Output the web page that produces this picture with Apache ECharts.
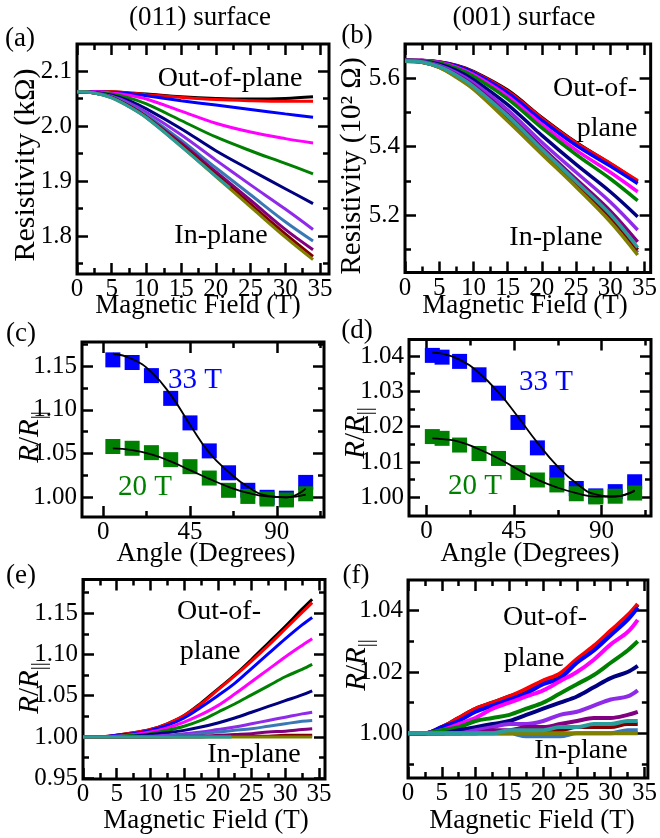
<!DOCTYPE html>
<html>
<head>
<meta charset="utf-8">
<script src="https://cdn.jsdelivr.net/npm/echarts@6/dist/echarts.min.js"></script>
<style>
html,body{margin:0;padding:0;background:#fff;}
#chart{width:660px;height:838px;}
</style>
</head>
<body>
<div id="chart"></div>
<script>
// ---------------- DATA ----------------
const seriesNames = ['black','red','blue','magenta','green','navy','violet','steel','purple','wine','olive','teal'];
const seriesColors = ['#000000','#ff0000','#0000ff','#ff00ff','#008000','#000080','#8f2be8','#3a78b5','#800080','#800000','#808000','#2a9c9c'];

// field grids (T)
const fieldA = [0, 2.5, 5, 7.5, 10, 15, 20, 25, 30, 34];
const fieldTeal = [0, 2.5, 5, 7.5, 10, 15, 20, 22];
const fieldE = [0, 2.5, 5, 7.5, 10, 12.5, 15, 17.5, 20, 22.5, 25, 27.5, 30, 32.5, 34];

// (a) (011) surface resistivity, kOhm
const aBlack   = [2.062, 2.062, 2.062, 2.060, 2.058, 2.053, 2.050, 2.049, 2.050, 2.053];
const aRed     = [2.062, 2.062, 2.062, 2.060, 2.057, 2.052, 2.048, 2.046, 2.045, 2.045];
const aBlue    = [2.062, 2.062, 2.061, 2.059, 2.055, 2.046, 2.038, 2.030, 2.022, 2.016];
const aMagenta = [2.062, 2.062, 2.060, 2.056, 2.049, 2.027, 2.005, 1.989, 1.977, 1.969];
const aGreen   = [2.062, 2.061, 2.058, 2.051, 2.040, 2.010, 1.980, 1.955, 1.932, 1.913];
const aNavy    = [2.062, 2.061, 2.056, 2.046, 2.031, 1.995, 1.955, 1.920, 1.886, 1.859];
const aViolet  = [2.062, 2.060, 2.054, 2.042, 2.025, 1.984, 1.938, 1.893, 1.849, 1.812];
const aSteel   = [2.062, 2.060, 2.053, 2.039, 2.020, 1.974, 1.924, 1.875, 1.826, 1.791];
const aPurple  = [2.062, 2.060, 2.052, 2.037, 2.017, 1.969, 1.917, 1.865, 1.812, 1.775];
const aWine    = [2.062, 2.060, 2.052, 2.036, 2.016, 1.966, 1.912, 1.858, 1.804, 1.763];
const aOlive   = [2.062, 2.060, 2.051, 2.035, 2.015, 1.963, 1.908, 1.853, 1.798, 1.757];
const aTeal    = [2.062, 2.060, 2.051, 2.035, 2.015, 1.963, 1.909, 1.888];

// (b) (001) surface resistivity, 10^2 Ohm
const bBlack   = [5.653, 5.652, 5.648, 5.638, 5.620, 5.565, 5.485, 5.412, 5.350, 5.298];
const bRed     = [5.653, 5.652, 5.648, 5.637, 5.618, 5.562, 5.483, 5.411, 5.351, 5.300];
const bBlue    = [5.653, 5.652, 5.647, 5.636, 5.616, 5.557, 5.477, 5.404, 5.343, 5.292];
const bMagenta = [5.653, 5.652, 5.646, 5.633, 5.611, 5.548, 5.465, 5.390, 5.325, 5.268];
const bGreen   = [5.653, 5.651, 5.645, 5.630, 5.606, 5.540, 5.455, 5.377, 5.306, 5.242];
const bNavy    = [5.652, 5.650, 5.641, 5.623, 5.596, 5.523, 5.433, 5.348, 5.268, 5.195];
const bViolet  = [5.652, 5.649, 5.638, 5.617, 5.587, 5.508, 5.413, 5.325, 5.238, 5.156];
const bSteel   = [5.650, 5.647, 5.633, 5.605, 5.570, 5.480, 5.382, 5.287, 5.189, 5.090];
const bPurple  = [5.651, 5.648, 5.635, 5.611, 5.579, 5.495, 5.398, 5.305, 5.212, 5.121];
const bWine    = [5.650, 5.647, 5.633, 5.606, 5.572, 5.484, 5.386, 5.291, 5.195, 5.098];
const bOlive   = [5.650, 5.647, 5.632, 5.603, 5.568, 5.475, 5.378, 5.282, 5.180, 5.083];
const bTeal    = [5.651, 5.648, 5.634, 5.609, 5.576, 5.490, 5.392, 5.298, 5.202, 5.105];

// (c) angle dependence, (011)
const cAngles = [5, 15, 25, 35, 45, 55, 65, 75, 85, 95, 105];
const c33T    = [1.157, 1.154, 1.139, 1.113, 1.085, 1.053, 1.028, 1.008, 1.000, 0.999, 1.017];
const c20T    = [1.058, 1.056, 1.051, 1.043, 1.035, 1.022, 1.008, 1.001, 0.998, 0.997, 1.004];
const cFit33T = [1.164, 1.158, 1.143, 1.117, 1.083, 1.051, 1.029, 1.012, 1.002, 1.000, 1.010];
const cFit20T = [1.056, 1.054, 1.049, 1.041, 1.031, 1.021, 1.012, 1.005, 1.001, 1.000, 1.003];

// (d) angle dependence, (001)
const dAngles = [3, 8, 17, 27, 37, 47, 57, 67, 77, 87, 97, 107];
const d33T    = [1.0402, 1.0397, 1.0385, 1.0347, 1.0295, 1.0212, 1.0140, 1.0070, 1.0025, 1.0004, 1.0016, 1.0044];
const d20T    = [1.0172, 1.0167, 1.0148, 1.0124, 1.0110, 1.0070, 1.0049, 1.0035, 1.0010, 1.0001, 1.0003, 1.0012];
const dFit33T = [1.0410, 1.0407, 1.0390, 1.0352, 1.0297, 1.0228, 1.0155, 1.0090, 1.0040, 1.0008, 1.0002, 1.0020];
const dFit20T = [1.0167, 1.0165, 1.0157, 1.0136, 1.0110, 1.0079, 1.0050, 1.0028, 1.0012, 1.0002, 1.0003, 1.0018];

// (e) R/R|| (011)
const eBlack   = [1.000, 1.000, 1.002, 1.005, 1.009, 1.016, 1.026, 1.041, 1.058, 1.075, 1.094, 1.114, 1.134, 1.155, 1.167];
const eRed     = [1.000, 1.000, 1.002, 1.005, 1.009, 1.016, 1.026, 1.040, 1.057, 1.074, 1.092, 1.111, 1.131, 1.151, 1.163];
const eBlue    = [1.000, 1.000, 1.002, 1.004, 1.008, 1.014, 1.023, 1.036, 1.050, 1.065, 1.083, 1.101, 1.119, 1.136, 1.145];
const eMagenta = [1.000, 1.000, 1.001, 1.003, 1.006, 1.011, 1.018, 1.027, 1.038, 1.052, 1.067, 1.082, 1.097, 1.111, 1.119];
const eGreen   = [1.000, 1.000, 1.001, 1.002, 1.004, 1.008, 1.013, 1.020, 1.030, 1.040, 1.051, 1.062, 1.073, 1.082, 1.088];
const eNavy    = [1.000, 1.000, 1.000, 1.001, 1.003, 1.005, 1.008, 1.012, 1.017, 1.023, 1.030, 1.037, 1.044, 1.051, 1.056];
const eViolet  = [1.000, 1.000, 1.000, 1.000, 1.001, 1.002, 1.004, 1.006, 1.009, 1.012, 1.016, 1.020, 1.024, 1.028, 1.030];
const eSteel   = [1.000, 1.000, 1.000, 1.000, 1.000, 1.001, 1.002, 1.004, 1.006, 1.008, 1.010, 1.013, 1.016, 1.019, 1.020];
const ePurple  = [1.000, 1.000, 1.000, 1.000, 1.000, 1.000, 1.001, 1.001, 1.002, 1.003, 1.004, 1.006, 1.007, 1.009, 1.010];
const eWine    = [1.000, 1.000, 1.000, 1.000, 1.000, 1.000, 1.000, 1.000, 1.001, 1.001, 1.001, 1.001, 1.002, 1.002, 1.002];
const eOlive   = [1.000, 1.000, 1.000, 1.000, 1.000, 1.000, 1.000, 1.000, 1.000, 1.000, 1.000, 1.000, 1.000, 1.000, 1.000];
const eTeal    = [1.000, 1.000, 1.000, 1.000, 1.000, 1.000, 1.000, 1.000];

// (f) R/R|| (001)
const fBlack   = [1.000, 1.000, 1.002, 1.005, 1.008, 1.010, 1.012, 1.014, 1.017, 1.019, 1.024, 1.028, 1.033, 1.038, 1.042];
const fRed     = [1.000, 1.000, 1.002, 1.005, 1.008, 1.010, 1.012, 1.0145, 1.0172, 1.0195, 1.0242, 1.0285, 1.0335, 1.0385, 1.0422];
const fBlue    = [1.000, 1.000, 1.002, 1.004, 1.007, 1.009, 1.011, 1.013, 1.016, 1.018, 1.023, 1.027, 1.032, 1.037, 1.041];
const fMagenta = [1.000, 1.000, 1.001, 1.003, 1.005, 1.008, 1.010, 1.012, 1.014, 1.017, 1.020, 1.024, 1.029, 1.033, 1.037];
const fGreen   = [1.000, 1.000, 1.001, 1.002, 1.004, 1.005, 1.006, 1.008, 1.010, 1.013, 1.016, 1.019, 1.023, 1.027, 1.030];
const fNavy    = [1.000, 1.000, 1.000, 1.001, 1.002, 1.003, 1.004, 1.006, 1.008, 1.010, 1.012, 1.015, 1.018, 1.020, 1.022];
const fViolet  = [1.000, 1.000, 1.000, 1.000, 1.001, 1.002, 1.003, 1.003, 1.004, 1.006, 1.007, 1.009, 1.011, 1.012, 1.014];
const fSteel   = [1.000, 1.000, 1.000, 1.000, 1.000, 1.000, 1.000, 0.999, 0.999, 0.999, 1.000, 1.000, 1.000, 1.001, 1.001];
const fPurple  = [1.000, 1.000, 1.000, 1.000, 1.000, 1.001, 1.001, 1.002, 1.002, 1.003, 1.004, 1.005, 1.005, 1.006, 1.007];
const fWine    = [1.000, 1.000, 1.000, 1.000, 1.000, 1.000, 1.000, 1.001, 1.001, 1.001, 1.002, 1.002, 1.002, 1.003, 1.003];
const fOlive   = [1.000, 1.000, 1.000, 1.000, 1.000, 1.000, 1.000, 1.000, 1.000, 1.000, 1.000, 1.000, 1.000, 1.000, 1.000];
const fTeal    = [1.000, 1.000, 1.000, 1.000, 1.000, 1.000, 1.001, 1.001, 1.001, 1.002, 1.002, 1.003, 1.003, 1.004, 1.004];

// tick values
const fieldTicks = [0, 5, 10, 15, 20, 25, 30, 35];
const fieldMinor = [2.5, 7.5, 12.5, 17.5, 22.5, 27.5, 32.5];
const angleTicks = [0, 45, 90];
const angleMinor = [22.5, 67.5, 112.5];
const aTicks = [1.8, 1.9, 2.0, 2.1];       const aMinor = [1.75, 1.85, 1.95, 2.05];
const bTicks = [5.2, 5.4, 5.6];            const bMinor = [5.1, 5.3, 5.5];
const cTicks = [1.00, 1.05, 1.10, 1.15];   const cMinor = [1.025, 1.075, 1.125, 1.175];
const dTicks = [1.00, 1.01, 1.02, 1.03, 1.04]; const dMinor = [1.005, 1.015, 1.025, 1.035];
const eTicks = [0.95, 1.00, 1.05, 1.10, 1.15]; const eMinor = [0.975, 1.025, 1.075, 1.125, 1.175];
const fTicks = [1.00, 1.02, 1.04];         const fMinor = [0.99, 1.01, 1.03];

// ---------------- BUILD ----------------
const FONT = 'Liberation Serif';
const zip = (xs, ys) => ys.map((y, i) => [xs[i], y]);

const grids = [
  {left: 77,  top: 44,  width: 252, height: 230},
  {left: 405, top: 44,  width: 247, height: 228.5},
  {left: 82,  top: 342, width: 242, height: 175},
  {left: 409, top: 339.5, width: 242, height: 176.5},
  {left: 83,  top: 579.5, width: 242, height: 199.5},
  {left: 408, top: 580, width: 244, height: 198}
].map(g => Object.assign({show: true, borderColor: '#000', borderWidth: 3, backgroundColor: 'transparent', containLabel: false}, g));

function axisSet(gi, dim, min, max, majors, minors, fmt) {
  const posA = dim === 'x' ? 'bottom' : 'left';
  const posB = dim === 'x' ? 'top' : 'right';
  const mk = (pos, vals, len, label) => ({
    gridIndex: gi, type: 'value', min: min, max: max, position: pos,
    axisLine: {show: false, onZero: false},
    splitLine: {show: false},
    axisTick: {show: true, inside: true, length: len, customValues: vals, lineStyle: {color: '#000', width: 2.5}},
    axisLabel: label ? {show: true, customValues: majors, formatter: fmt, color: '#000', fontFamily: FONT, fontSize: 25, margin: dim === 'x' ? 3 : 5} : {show: false}
  });
  return [mk(posA, majors, 11, true), mk(posA, minors, 6, false), mk(posB, majors, 11, false), mk(posB, minors, 6, false)];
}
const f0 = v => String(Math.round(v));
const f1 = v => v.toFixed(1);
const f2 = v => v.toFixed(2);

const xAxes = [].concat(
  axisSet(0, 'x', 0, 36.3, fieldTicks, fieldMinor, f0),
  axisSet(1, 'x', 0, 35.9, fieldTicks, fieldMinor, f0),
  axisSet(2, 'x', -11, 114.5, angleTicks, angleMinor, f0),
  axisSet(3, 'x', -9, 115.4, angleTicks, angleMinor, f0),
  axisSet(4, 'x', 0, 35.9, fieldTicks, fieldMinor, f0),
  axisSet(5, 'x', 0, 35.5, fieldTicks, fieldMinor, f0)
);
const yAxes = [].concat(
  axisSet(0, 'y', 1.731, 2.149, aTicks, aMinor, f1),
  axisSet(1, 'y', 5.0317, 5.7004, bTicks, bMinor, f1),
  axisSet(2, 'y', 0.9775, 1.1774, cTicks, cMinor, f2),
  axisSet(3, 'y', 0.9947, 1.0447, dTicks, dMinor, f2),
  axisSet(4, 'y', 0.949, 1.191, eTicks, eMinor, f2),
  axisSet(5, 'y', 0.9854, 1.0500, fTicks, fMinor, f2)
);

const series = [];
function lines(panel, xs, arrs, width) {
  arrs.forEach((arr, k) => {
    const xv = arr.length === xs.length ? xs : fieldTeal;
    series.push({
      type: 'line', xAxisIndex: panel * 4, yAxisIndex: panel * 4,
      data: zip(xv, arr), showSymbol: false, smooth: 0.35, silent: true,
      lineStyle: {width: width, color: seriesColors[k]}, itemStyle: {color: seriesColors[k]},
      z: 2 + k * 0.01
    });
  });
}
lines(0, fieldA, [aBlack, aRed, aBlue, aMagenta, aGreen, aNavy, aViolet, aSteel, aPurple, aWine, aOlive, aTeal], 3);
lines(1, fieldA, [bBlack, bRed, bBlue, bMagenta, bGreen, bNavy, bViolet, bSteel, bPurple, bWine, bOlive, bTeal], 3.5);
lines(4, fieldE, [eBlack, eRed, eBlue, eMagenta, eGreen, eNavy, eViolet, eSteel, ePurple, eWine, eOlive, eTeal], 3);
lines(5, fieldE, [fBlack, fRed, fBlue, fMagenta, fGreen, fNavy, fViolet, fSteel, fPurple, fWine, fOlive, fTeal], 4);

function pts(panel, xs, ys, color) {
  series.push({type: 'scatter', xAxisIndex: panel * 4, yAxisIndex: panel * 4, data: zip(xs, ys),
    symbol: 'rect', symbolSize: 15, itemStyle: {color: color, opacity: 1}, silent: true, z: 3});
}
function fit(panel, xs, ys) {
  series.push({type: 'line', xAxisIndex: panel * 4, yAxisIndex: panel * 4, data: zip(xs, ys),
    showSymbol: false, smooth: 0.5, lineStyle: {width: 1.8, color: '#000'}, silent: true, z: 4});
}
pts(2, cAngles, c33T, '#0000ff'); pts(2, cAngles, c20T, '#008000');
fit(2, cAngles, cFit33T); fit(2, cAngles, cFit20T);
pts(3, dAngles, d33T, '#0000ff'); pts(3, dAngles, d20T, '#008000');
fit(3, dAngles, dFit33T); fit(3, dAngles, dFit20T);

// ---------------- TEXT ----------------
function txt(text, x, y, size, color, rot) {
  return {type: 'text', x: x, y: y, rotation: rot || 0, z: 100,
    style: {text: text, fontFamily: FONT, fontSize: size, fill: color || '#000', align: 'center', verticalAlign: 'middle'}};
}
function rr(x, y) {
  return {type: 'text', x: x, y: y, rotation: Math.PI / 2, z: 100,
    style: {text: '{i|R}{n|/}{i|R}{s|||}', fontFamily: FONT, fontSize: 29, fill: '#000', align: 'center', verticalAlign: 'middle',
      rich: {
        i: {fontFamily: FONT, fontSize: 29, fontStyle: 'italic', fill: '#000', lineHeight: 40, verticalAlign: 'middle'},
        n: {fontFamily: FONT, fontSize: 29, fill: '#000', lineHeight: 40, verticalAlign: 'middle'},
        s: {fontFamily: FONT, fontSize: 20, fill: '#000', lineHeight: 20, verticalAlign: 'bottom'}
      }}};
}
const graphics = [
  txt('(011) surface', 200, 18, 27),
  txt('(001) surface', 524, 18, 27),
  txt('(a)', 20, 39, 27), txt('(b)', 357, 36, 27),
  txt('(c)', 21, 334, 27), txt('(d)', 357, 331, 27),
  txt('(e)', 21, 576, 27), txt('(f)', 356, 576, 27),
  txt('Magnetic Field (T)', 198, 306, 27),
  txt('Magnetic Field (T)', 525, 306, 27),
  txt('Angle (Degrees)', 206, 554, 27),
  txt('Angle (Degrees)', 530, 554, 27),
  txt('Magnetic Field (T)', 206, 821, 27),
  txt('Magnetic Field (T)', 532, 821, 27),
  txt('Resistivity (k\u03A9)', 26, 165, 30, '#000', Math.PI / 2),
  txt('Resistivity (10\u00B2 \u03A9)', 352, 166, 29, '#000', Math.PI / 2),
  rr(30, 437), rr(356, 433), rr(30, 688), rr(357, 665),
  txt('Out-of-plane', 230, 79, 28),
  txt('In-plane', 221, 236, 28),
  txt('Out-of-', 595, 89, 28), txt('plane', 607, 129, 28),
  txt('In-plane', 556, 238, 28),
  txt('33 T', 195, 380, 29, '#0000ff'), txt('20 T', 145, 487, 29, '#008000'),
  txt('33 T', 546, 382, 29, '#0000ff'), txt('20 T', 475, 486, 29, '#008000'),
  txt('Out-of-', 219, 612, 28), txt('plane', 210, 652, 28), txt('In-plane', 254, 755, 28),
  txt('Out-of-', 545, 618, 28), txt('plane', 534, 659, 28), txt('In-plane', 581, 751, 28)
];

const chart = echarts.init(document.getElementById('chart'), null, {renderer: 'canvas'});
chart.setOption({
  animation: false,
  backgroundColor: '#fff',
  grid: grids,
  xAxis: xAxes,
  yAxis: yAxes,
  series: series,
  graphic: graphics
});
</script>
</body>
</html>
